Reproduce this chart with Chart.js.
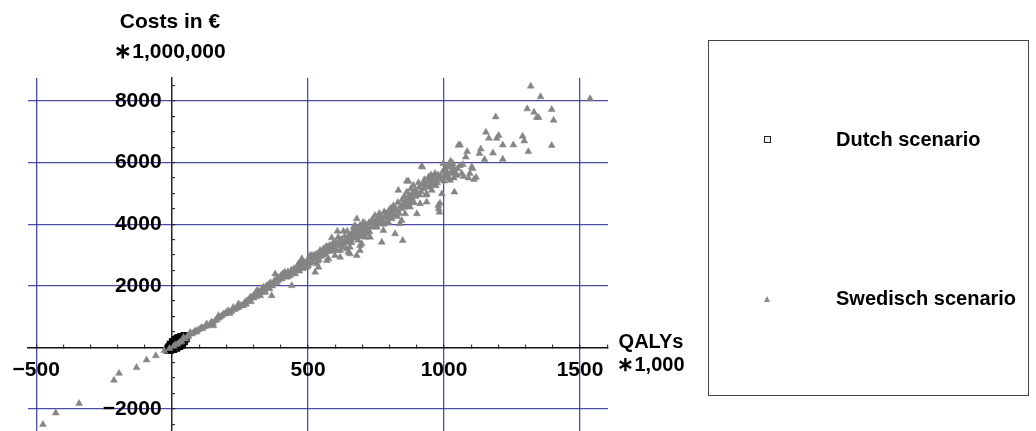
<!DOCTYPE html>
<html><head><meta charset="utf-8">
<script src="https://cdn.jsdelivr.net/npm/chart.js@4.4.0/dist/chart.umd.min.js"></script>
<style>
html,body{margin:0;padding:0;background:#fff;overflow:hidden;}
#wrap{position:relative;width:1036px;height:431px;overflow:hidden;font-family:'Liberation Sans',Arial,sans-serif;font-weight:bold;font-size:20px;color:#000;}
canvas{position:absolute;left:0;top:0;}
.t{position:absolute;white-space:nowrap;line-height:1;}
.c{transform:translateX(-50%);}
#legbox{position:absolute;left:708px;top:40px;width:321px;height:356px;border:1px solid #444;box-sizing:border-box;}
#sq{position:absolute;left:764px;top:136px;width:5px;height:5px;border:1px solid #222;background:#eee;}
#tri{position:absolute;left:764px;top:296px;width:0;height:0;border-left:3.5px solid transparent;border-right:3.5px solid transparent;border-bottom:6px solid #888;}
</style>
</head><body>
<div id="wrap">
<canvas id="c" width="1036" height="437"></canvas>
<div class="t c" style="left:170px;top:10px;font-size:21px;">Costs in €</div>
<div class="t c" style="left:170px;top:40px;font-size:21px;">∗1,000,000</div>
<div class="t c" style="left:651px;top:331px;font-size:20px;">QALYs</div>
<div class="t c" style="left:651px;top:354px;font-size:20px;">∗1,000</div>
<div id="legbox"></div>
<div id="sq"></div>
<div id="tri"></div>
<div class="t" style="left:836px;top:129px;">Dutch scenario</div>
<div class="t" style="left:836px;top:288px;">Swedisch scenario</div>
</div>
<script>
// ---- data (QALYs *1,000 , Costs in € *1,000,000) ----
const dutchPoints = [
[-19,-105],[-15,22],[-10,-44],[-4,-110],[-8,116],[-3,50],[3,-16],[8,-82],
[0,198],[5,138],[10,79],[15,19],[19,-40],
[9,265],[14,206],[19,140],[25,74],[30,15],
[19,320],[24,260],[29,201],[34,142],[38,82],
[30,362],[35,296],[41,230],[46,164],
[42,390],[48,324],[53,258],[57,385],
[-12,-20],[-6,20],[2,100],[6,60],[12,170],[16,110],[22,230],[26,170],[32,270],[36,200],[44,290],[50,350],[-14,-75],[1,-50],[22,40],[40,140],
[-17,-30],[-9,60],[4,200],[14,280],[27,330],[39,60],[31,100],[17,0],[7,-40]
];
const swedishPoints = [
[-475,-2510],[-428,-2135],[-342,-1823],[-214,-1070],[-195,-845],[-131,-661],[-94,-413],[-60,-274],[-29,-113],
[-10,-40],[5,30],[12,85],[20,110],[28,160],[35,190],[42,319],[48,270],[55,330],[60,360],[66,482],
[72,430],[78,470],[85,537],[90,500],[95,560],[103,593],[108,640],[112,610],[121,668],[127,755],
[130,700],[140,755],[145,820],[150,790],
[152,700],[158,863],[165,900],[170,1026],[170,950],[176,980],[183,1026],[189,1081],[195,1081],[200,1150],
[207,1189],[207,1134],[212,1100],[219,1166],[225,1296],[228,1230],[232,1244],[238,1280],[244,1407],[244,1296],
[250,1350],[256,1352],[262,1352],[265,1420],[268,1459],[272,1400],[275,1515],[281,1515],[285,1560],[287,1622],
[290,1480],[293,1622],[299,1677],[300,1600],
[305,1733],[311,1840],[317,1840],[320,1720],[324,1677],[328,1780],[330,1896],[336,1948],[340,1850],[342,1785],
[346,1990],[354,1948],[354,2036],[358,1900],[362,2100],[366,1677],[368,1990],[372,2059],[375,2150],[379,2384],
[383,2200],[388,2280],[391,2166],[395,2250],[400,2330],[403,2221],[408,2400],[412,2300],[415,2436],[418,2350],
[422,2274],[426,2450],[430,2380],[434,2329],[438,2500],[440,2003],[444,2420],[448,2550],[452,2384],
[455,2470],[458,2547],[460,2600],[464,2710],[468,2480],[472,2640],[477,2818],[477,2873],[480,2560],[483,2655],
[487,2750],[490,2700],[495,2599],[498,2800],[501,2873],[505,2720],[507,2980],[510,2850],[514,2980],[516,2760],
[520,2873],[523,3000],[526,2436],[528,2900],[532,2710],[532,3036],[535,2800],[538,2599],[541,3000],[544,3143],
[544,3088],[548,2950],[552,3100],[556,3199],[560,3050],[563,3036],[565,3250],[569,2818],[569,3274],[573,3150],
[575,2873],[578,3300],[581,3251],[585,3120],[587,3557],[590,3350],[593,3362],[593,3199],[596,3250],[599,2980],
[602,3420],[605,3143],[608,3772],[611,3577],[614,3300],[618,2925],[618,3469],[618,3143],[622,3500],[626,3380],
[630,3362],[630,3772],[634,3600],[638,3450],[642,3469],[642,3414],[642,3199],[644,3772],[648,3088],[651,3650],
[654,3251],[654,3577],[654,3036],[658,3500],[661,3632],[664,3720],[667,3795],[667,3902],[670,3550],[673,3958],
[676,3680],[679,2980],[679,4176],[682,3800],[685,3620],[688,3900],[691,3143],[691,3958],[691,3599],[691,3306],
[694,3750],[697,3362],[700,3850],[703,3902],[703,4065],[706,3700],[710,4013],[710,3577],[713,3950],[716,3687],
[720,3800],[724,4050],[728,3577],[732,3900],[736,4150],[740,4121],[744,3950],[746,4283],[750,4000],
[753,3902],[756,4200],[759,4121],[762,4350],[765,4013],[768,4250],[771,3414],[774,4100],[777,3795],[780,4400],
[783,4180],[786,4300],[789,4339],[792,4050],[795,4065],[798,4450],[801,4250],[804,4520],[808,4176],[811,4380],
[814,4600],[817,4300],[820,3687],[823,4500],[826,4446],[830,4700],[832,5098],[835,4350],[838,4013],[841,4600],
[844,4121],[846,4800],[848,3469],[851,4650],[854,4900],[857,4339],[860,4750],[863,5043],[863,5400],[866,4600],
[869,4664],[869,5391],[872,4950],[875,4554],[878,5150],[881,4850],[884,5000],[887,5261],[890,4700],[893,5100],
[896,4900],[900,4339],[900,5043],
[906,5349],[909,5200],[912,4664],[915,5050],[918,5879],[920,5857],[922,5300],[925,5150],[928,5450],[931,5250],
[934,4950],[936,4717],[936,4990],[940,5380],[943,5531],[946,5200],[949,5283],[952,5600],[955,5100],[958,5420],
[961,5531],[961,5554],[964,5350],[967,5650],[970,5250],[973,5480],[975,5349],[979,4609],[980,4500],[983,4391],
[985,4680],[988,5550],[992,4990],[995,5700],[997,5967],[1000,5400],[1003,5800],[1005,5550],[1008,5650],[1010,5694],
[1013,5850],[1016,5912],[1018,5500],[1020,5987],[1022,5423],[1025,6042],[1028,5642],[1030,5750],[1032,5967],[1034,5857],
[1038,5043],[1040,5700],[1043,5600],[1047,5586],[1050,5800],[1053,6564],
[1059,6573],[1065,5650],[1069,5935],[1072,5550],[1080,6182],[1085,6358],[1090,5500],[1095,5650],[1102,5857],[1105,5805],
[1110,5450],[1118,5520],[1130,6293],[1135,6443],[1149,6098],[1154,6987],[1165,6792],[1180,6313],[1190,7485],[1194,6792],
[1201,6879],[1216,6573],[1216,6107],[1255,6573],[1289,6857],[1295,6704],[1306,7746],[1310,6358],[1319,8485],[1331,7638],
[1341,7466],[1348,7466],[1355,8137],[1396,7726],[1396,6554],[1403,7378],[1537,8072],
[310,1650],[335,1800],[360,2000],[385,2100],[405,2350],[425,2300],[445,2480],[462,2550],[475,2700],[485,2580],
[500,2650],[512,2780],[525,2950],[540,2850],[555,3000],[570,3100],[583,3300],[600,3200],[615,3400],[628,3250],
[645,3550],[660,3400],[672,3700],[684,3480],[698,3650],[712,3820],[726,3750],[738,3980],[752,4080],[766,4150],
[779,4000],[790,4220],[805,4380],[818,4450],[828,4250],[842,4500],[855,4550],[870,4800],[883,4700],[898,5000],
[910,4950],[927,5350],[945,5450],[960,5300],[978,5600],[990,5450],[1012,5600],[1036,5500],[1058,5900]
];
const xTickValues = [-500,-400,-300,-200,-100,0,100,200,300,400,500,600,700,800,900,1000,1100,1200,1300,1400,1500,1600];
const xLabelValues = [-500,500,1000,1500];
const yTickValues = [-2500,-2000,-1500,-1000,-500,0,500,1000,1500,2000,2500,3000,3500,4000,4500,5000,5500,6000,6500,7000,7500,8000,8500];
const yLabelValues = [-2000,2000,4000,6000,8000];
const xRange = [-530, 1603];
const yRange = [-2753, 8749];

const GRID = 'rgba(45,45,150,0.85)';
const FONT = "'Liberation Sans', Arial, sans-serif";
const fmt = v => (v < 0 ? '\u2212' + Math.abs(v) : String(v));
const toXY = a => a.map(p => ({x: p[0], y: p[1]}));
const isIn = (arr, c) => !!(c.tick && arr.includes(c.tick.value));

new Chart(document.getElementById('c'), {
  type: 'scatter',
  data: {
    datasets: [
      {label: 'Dutch scenario', data: toXY(dutchPoints), pointStyle: 'rect', pointRadius: 3.8,
       borderColor: '#000', backgroundColor: 'rgba(0,0,0,0.85)', borderWidth: 1, order: 2},
      {label: 'Swedisch scenario', data: toXY(swedishPoints), pointStyle: 'triangle', pointRadius: 4,
       borderColor: '#858585', backgroundColor: '#858585', borderWidth: 0.5, order: 1}
    ]
  },
  options: {
    responsive: false, animation: false, events: [],
    layout: {padding: {left: 28, right: 428, top: 78, bottom: 0}},
    plugins: {legend: {display: false}, tooltip: {enabled: false}},
    scales: {
      x: {
        type: 'linear', min: xRange[0], max: xRange[1], position: {y: 0},
        afterBuildTicks: s => { s.ticks = [xRange[0]].concat(xTickValues, [xRange[1]]).map(v => ({value: v})); },
        ticks: {
          autoSkip: false, maxRotation: 0, minRotation: 0, padding: 14, color: '#000',
          font: c => ({family: FONT, weight: 'bold', size: isIn(xLabelValues, c) ? 21 : 1}),
          callback: v => xLabelValues.includes(v) ? fmt(v) : ''
        },
        grid: {
          color: c => isIn(xLabelValues, c) ? GRID : 'rgba(0,0,0,0)',
          lineWidth: 1.3, drawTicks: true, tickLength: -4,
          tickColor: c => isIn(xTickValues, c) ? '#111' : 'rgba(0,0,0,0)', tickWidth: 1
        },
        border: {display: true, color: '#111', width: 1.5}
      },
      y: {
        type: 'linear', min: yRange[0], max: yRange[1], position: {x: 0},
        afterBuildTicks: s => { s.ticks = yTickValues.map(v => ({value: v})); },
        ticks: {
          autoSkip: false, padding: 0, color: '#000',
          font: c => ({family: FONT, weight: 'bold', size: isIn(yLabelValues, c) ? 21 : 1}),
          callback: v => yLabelValues.includes(v) ? fmt(v) + '\u2002' : ''
        },
        grid: {
          color: c => isIn(yLabelValues, c) ? GRID : 'rgba(0,0,0,0)',
          lineWidth: 1.3, drawTicks: true, tickLength: -4, tickColor: '#111', tickWidth: 1
        },
        border: {display: true, color: '#222244', width: 1.5}
      }
    }
  }
});
</script>
</body></html>
